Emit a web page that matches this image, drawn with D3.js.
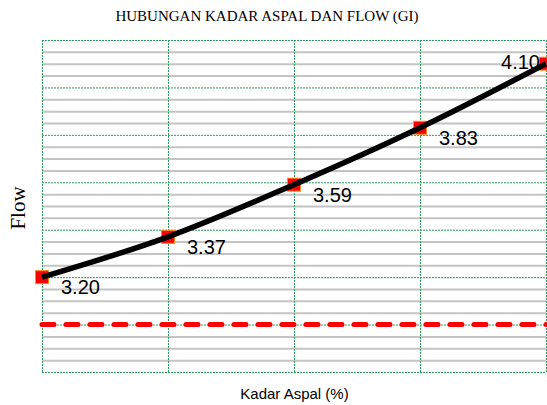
<!DOCTYPE html>
<html><head><meta charset="utf-8">
<script src="https://cdn.jsdelivr.net/npm/d3@7"></script>
<style>html,body{margin:0;padding:0;background:#fff;}svg{display:block;}</style>
</head><body>
<svg id="chart" width="547" height="405"></svg>
<script>
const categories = ["1", "2", "3", "4", "5"];
const flowValues = [3.20, 3.37, 3.59, 3.83, 4.10];
const valueLabels = ["3.20", "3.37", "3.59", "3.83", "4.10"];
const minFlow = [3.0];
const yDomain = [2.8, 4.2];
const yMajorStep = 0.2;
const yMinorStep = 0.05;
const titleText = "HUBUNGAN KADAR ASPAL DAN FLOW (GI)";
const xTitle = "Kadar Aspal (%)";
const yTitle = "Flow";

const svg = d3.select("#chart");
const m = {left: 42, right: 1, top: 40, bottom: 33};
const W = 547, H = 405;
const x = d3.scalePoint().domain(categories).range([m.left, W - m.right]);
const y = d3.scaleLinear().domain(yDomain).range([H - m.bottom, m.top]);

const minorTicks = d3.range(0, Math.round((yDomain[1]-yDomain[0])/yMinorStep)+1)
  .map(i => +(yDomain[0] + i*yMinorStep).toFixed(4));
const majorTicks = d3.range(0, Math.round((yDomain[1]-yDomain[0])/yMajorStep)+1)
  .map(i => +(yDomain[0] + i*yMajorStep).toFixed(4));
const isMajor = v => majorTicks.some(t => Math.abs(t - v) < 1e-6);

// minor gray gridlines
svg.append("g").call(d3.axisLeft(y).tickValues(minorTicks.filter(v => !isMajor(v)))
    .tickSize(-(W - m.left - m.right)).tickFormat(""))
  .attr("transform", `translate(${m.left},0)`)
  .call(g => g.select(".domain").remove())
  .call(g => g.selectAll("line").attr("stroke", "#c4c4c4").attr("stroke-width", 2));

const green = "#2e9a5c";
// major horizontal green dotted
svg.append("g").call(d3.axisLeft(y).tickValues(majorTicks)
    .tickSize(-(W - m.left - m.right)).tickFormat(""))
  .attr("transform", `translate(${m.left},0)`)
  .call(g => g.select(".domain").remove())
  .call(g => g.selectAll("line").attr("stroke", green).attr("stroke-width", 1).attr("stroke-dasharray", "2,1"));

// vertical green dotted
svg.append("g").call(d3.axisBottom(x).tickSize(-(H - m.top - m.bottom)).tickFormat(""))
  .attr("transform", `translate(0,${H - m.bottom})`)
  .call(g => g.select(".domain").remove())
  .call(g => g.selectAll("line").attr("stroke", green).attr("stroke-width", 1).attr("stroke-dasharray", "2,1"));

// red dashed reference line
svg.selectAll(".ref").data(minFlow).enter().append("line")
  .attr("x1", m.left).attr("x2", W)
  .attr("y1", d => y(d)).attr("y2", d => y(d))
  .attr("stroke", "#ff0000").attr("stroke-width", 5)
  .attr("stroke-linecap", "round").attr("stroke-dasharray", "12,12");

const data = categories.map((c, i) => ({c, v: flowValues[i], lab: valueLabels[i]}));

// markers
svg.selectAll(".mk").data(data).enter().append("rect")
  .attr("x", d => x(d.c) - 6.5).attr("y", d => y(d.v) - 6.5)
  .attr("width", 13).attr("height", 13)
  .attr("fill", "#ff0000").attr("stroke", "#ff8c1a").attr("stroke-width", 1);

// line
const line = d3.line().x(d => x(d.c)).y(d => y(d.v)).curve(d3.curveCatmullRom.alpha(0.5));
svg.append("path").datum(data).attr("d", line)
  .attr("fill", "none").attr("stroke", "#000").attr("stroke-width", 5.5);

// labels
svg.selectAll(".lb").data(data).enter().append("text")
  .attr("x", (d, i) => i === data.length - 1 ? x(d.c) - 6 : x(d.c) + 19)
  .attr("y", (d, i) => i === data.length - 1 ? y(d.v) + 5 : y(d.v) + 17)
  .attr("text-anchor", (d, i) => i === data.length - 1 ? "end" : "start")
  .attr("font-family", "Arial, 'Liberation Sans', sans-serif")
  .attr("font-size", 20).attr("fill", "#000")
  .text(d => d.lab);

// titles
svg.append("text").attr("x", 267).attr("y", 21).attr("text-anchor", "middle")
  .attr("font-family", "'Times New Roman', 'Liberation Serif', serif").attr("font-size", 15)
  .text(titleText);
svg.append("text").attr("x", (m.left + W) / 2).attr("y", 399).attr("text-anchor", "middle")
  .attr("font-family", "Arial, 'Liberation Sans', sans-serif").attr("font-size", 15)
  .text(xTitle);
svg.append("text").attr("transform", `translate(25,${(m.top + H - m.bottom)/2 + 2}) rotate(-90)`)
  .attr("text-anchor", "middle")
  .attr("font-family", "'Times New Roman', 'Liberation Serif', serif").attr("font-size", 21)
  .text(yTitle);
</script>
</body></html>
